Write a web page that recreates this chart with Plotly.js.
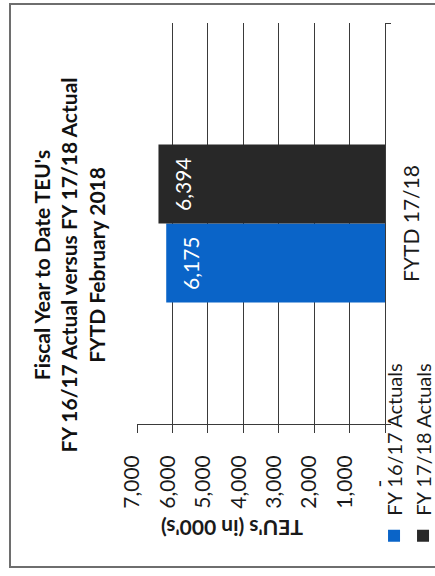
<!DOCTYPE html>
<html><head><meta charset="utf-8">
<script src="https://cdn.plot.ly/plotly-3.0.1.min.js"></script>
<style>
html,body{margin:0;padding:0;width:435px;height:576px;overflow:hidden;background:#fff}
#wrap{position:absolute;left:0;top:0;width:576px;height:435px;transform-origin:0 0;transform:translate(0,576px) rotate(-90deg);}
#chart{position:absolute;left:0;top:0;width:576px;height:435px}
#frame{position:absolute;left:8px;top:9px;width:565px;height:445px;border:2px solid #6e6e6e;box-sizing:border-box;pointer-events:none}
</style></head><body>
<div id="wrap"><div id="chart"></div><div id="frame"></div></div>
<script>
// ---- data ----
const categories = ["FYTD 17/18"];
const seriesNames = ["FY 16/17 Actuals", "FY 17/18 Actuals"];
const fy1617 = [6175];
const fy1718 = [6394];
const yTickVals = [0, 1000, 2000, 3000, 4000, 5000, 6000, 7000];
const yTickText = ["-\u2007\u2007", "1,000", "2,000", "3,000", "4,000", "5,000", "6,000", "7,000"];
const chartTitle = "Fiscal Year to Date TEU's<br>FY 16/17 Actual versus FY 17/18 Actual<br>FYTD February 2018";
const yTitle = "TEU's (in 000's)";

// ---- styles ----
const colors = ["#0A64C8", "#282828"];
const FONT = "Lato, 'Open Sans', sans-serif";
const bargap = 0.606;
const series = [fy1617, fy1718];

const traces = series.map((vals, i) => ({
  type: "bar",
  name: seriesNames[i],
  x: categories,
  y: vals,
  marker: {color: colors[i], line: {width: 0}},
  hoverinfo: "skip"
}));

// value labels inside the top of each bar
const barW = (1 - bargap) / series.length;
const fmt = v => v.toLocaleString("en-US");
const labelAnns = [];
series.forEach((vals, si) => {
  vals.forEach((v, ci) => {
    labelAnns.push({
      xref: "x", yref: "y",
      x: ci + (si - (series.length - 1) / 2) * barW,
      y: v,
      text: fmt(v),
      showarrow: false,
      yanchor: "top",
      yshift: -10,
      font: {family: FONT, size: 21, color: "#ffffff"}
    });
  });
});

const layout = {
  width: 576, height: 435,
  margin: {l: 152, r: 23, t: 137, b: 50, autoexpand: false},
  paper_bgcolor: "#ffffff",
  plot_bgcolor: "#ffffff",
  font: {family: FONT, size: 21, color: "#1a1a1a"},
  showlegend: true,
  barmode: "group",
  bargap: bargap,
  bargroupgap: 0,
  title: {
    text: chartTitle,
    font: {family: FONT, size: 21, weight: 700, color: "#111"},
    xref: "container", x: 0.54, xanchor: "center",
    yref: "container", y: 0.885, yanchor: "top"
  },
  xaxis: {
    type: "category", automargin: false,
    showline: true, linecolor: "#3a3a3a", linewidth: 1,
    ticks: "outside", tickson: "boundaries", ticklen: 5, tickcolor: "#3a3a3a", tickwidth: 1,
    ticklabelstandoff: 8,
    showgrid: false, zeroline: false,
    tickfont: {family: FONT, size: 21, color: "#1a1a1a"}
  },
  yaxis: {
    range: [0, 7000], automargin: false,
    tickvals: yTickVals, ticktext: yTickText,
    showline: true, linecolor: "#3a3a3a", linewidth: 1,
    ticks: "outside", ticklen: 8, tickcolor: "#3a3a3a", tickwidth: 1,
    ticklabelstandoff: 18, ticklabelshift: -5,
    showgrid: true, gridcolor: "#3a3a3a", gridwidth: 1,
    zeroline: false,
    tickfont: {family: FONT, size: 21, color: "#1a1a1a"}
  },
  legend: {
    orientation: "v",
    xref: "container", yref: "container",
    x: 0.035, y: 0.139, xanchor: "left", yanchor: "top",
    font: {family: FONT, size: 20, color: "#1a1a1a"},
    bgcolor: "rgba(0,0,0,0)",
    tracegroupgap: 0
  },
  annotations: labelAnns.concat([{
    xref: "paper", yref: "paper",
    x: (47 - 152) / 401, y: (385 - 232) / 248,
    text: yTitle, textangle: -90, showarrow: false,
    xanchor: "center", yanchor: "middle",
    font: {family: FONT, size: 21, weight: 700, color: "#1a1a1a"}
  }])
};

Plotly.newPlot("chart", traces, layout, {staticPlot: true, displayModeBar: false});
</script>
</body></html>
